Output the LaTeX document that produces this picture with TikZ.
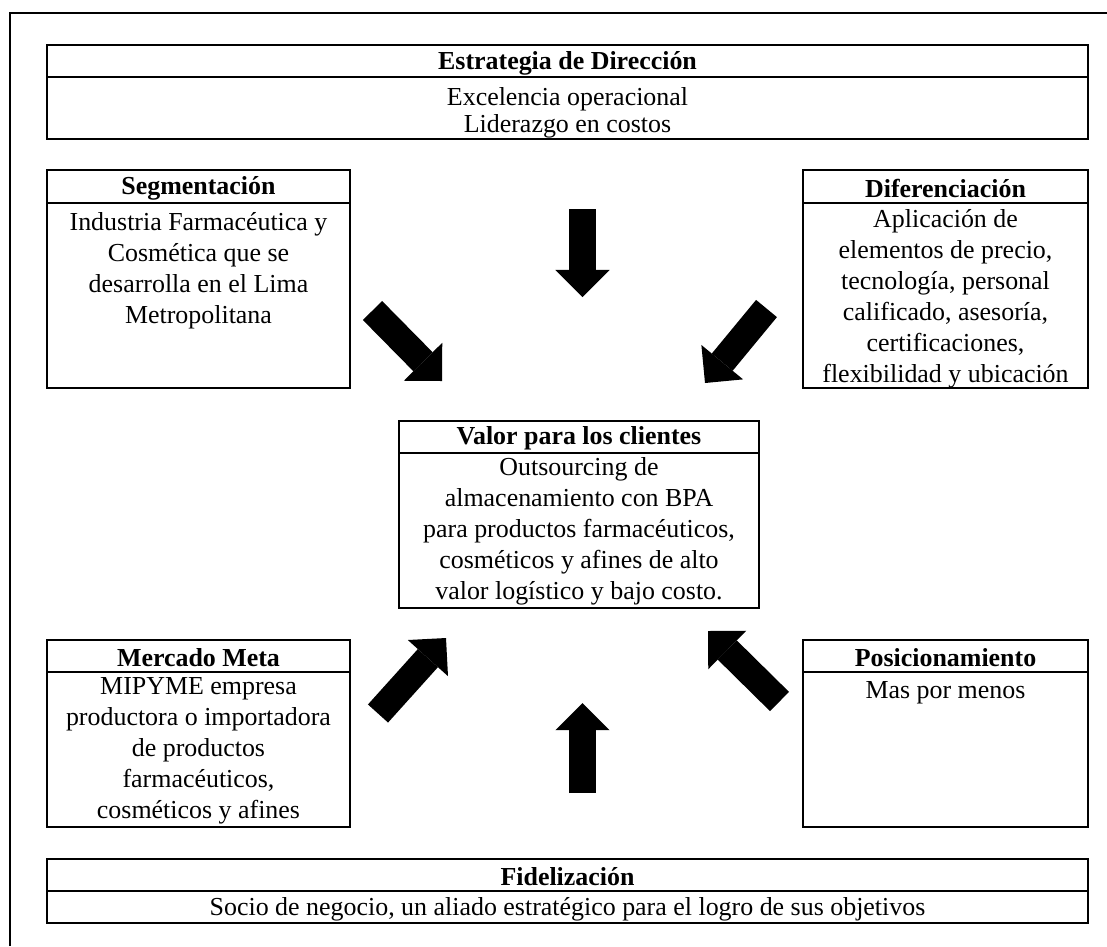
\documentclass[tikz,border=0pt]{standalone}
\usepackage{fontspec}
\setmainfont{Liberation Serif}
\usetikzlibrary{arrows.meta}

\begin{document}
\begin{tikzpicture}[x=0.54pt,y=-0.54pt,
        box/.style={line width=1pt},
        title/.style={font=\fontsize{14}{16.7}\selectfont\bfseries,inner sep=0pt},
        body/.style={align=center,font=\fontsize{14}{16.7}\selectfont,inner sep=0pt},
        bigarrow/.style={line width=14.6pt,-{Triangle[length=14.6pt,width=29.2pt,line width=0pt]}}]
        \useasboundingbox (0,0) rectangle (1107,946);
        % Outer frame: only the left and top edges are visible
        \draw[box] (10,946) -- (10,13) -- (1107,13);
        % Estrategia de Direccion (top)
        \draw[box] (47,45) rectangle (1088,139);
        \draw[box] (47,77) -- (1088,77);
        \node[title] (estrT) at (567.5,63) {Estrategia de Dirección};
        \node[body,font=\fontsize{14}{14.6}\selectfont] (estrB) at (567.5,113) {Excelencia operacional\\Liderazgo en costos};
        % Segmentacion (upper left)
        \draw[box] (47,170) rectangle (350,388);
        \draw[box] (47,203) -- (350,203);
        \node[title] (segmT) at (198.5,188) {Segmentación};
        \node[body] (segmB) at (198.5,271) {Industria Farmacéutica y\\Cosmética que se\\desarrolla en el Lima\\Metropolitana};
        % Diferenciacion (upper right)
        \draw[box] (803,170) rectangle (1088,388);
        \draw[box] (803,203) -- (1088,203);
        \node[title] (difeT) at (945.5,188) {Diferenciación};
        \node[body] (difeB) at (945.5,298.5) {Aplicación de\\elementos de precio,\\tecnología, personal\\calificado, asesoría,\\certificaciones,\\flexibilidad y ubicación};
        % Valor para los clientes (centre)
        \draw[box] (399,421) rectangle (759,608);
        \draw[box] (399,453) -- (759,453);
        \node[title] (valorT) at (579,438.5) {Valor para los clientes};
        \node[body] (valorB) at (579,531) {Outsourcing de\\almacenamiento con BPA\\para productos farmacéuticos,\\cosméticos y afines de alto\\valor logístico y bajo costo.};
        % Mercado Meta (lower left)
        \draw[box] (47,640) rectangle (350,827);
        \draw[box] (47,672) -- (350,672);
        \node[title] (mercT) at (198.5,658) {Mercado Meta};
        \node[body] (mercB) at (198.5,750.5) {MIPYME empresa\\productora o importadora\\de productos\\farmacéuticos,\\cosméticos y afines};
        % Posicionamiento (lower right)
        \draw[box] (803,640) rectangle (1088,827);
        \draw[box] (803,672) -- (1088,672);
        \node[title] (posiT) at (945.5,658) {Posicionamiento};
        \node[body] (posiB) at (945.5,693) {Mas por menos};
        % Fidelizacion (bottom)
        \draw[box] (47,859) rectangle (1088,923);
        \draw[box] (47,891) -- (1088,891);
        \node[title] (fideT) at (567.5,877) {Fidelización};
        \node[body] (fideB) at (567.5,909) {Socio de negocio, un aliado estratégico para el logro de sus objetivos};
        % Block arrows pointing at the centre box
        \coordinate (topTail) at (582.5,209);   \coordinate (topTip) at (582.5,297);
        \coordinate (ulTail) at (372.5,310.5);  \coordinate (ulTip) at (442,381);
        \coordinate (urTail) at (766.5,308.5);  \coordinate (urTip) at (705,383);
        \coordinate (llTail) at (378,713.5);    \coordinate (llTip) at (446,638);
        \coordinate (botTail) at (582.5,793);   \coordinate (botTip) at (582.5,703);
        \coordinate (lrTail) at (779.5,701.5);  \coordinate (lrTip) at (708,631);
        \draw[bigarrow] (topTail) -- (topTip);
        \draw[bigarrow] (ulTail) -- (ulTip);
        \draw[bigarrow] (urTail) -- (urTip);
        \draw[bigarrow] (llTail) -- (llTip);
        \draw[bigarrow] (botTail) -- (botTip);
        \draw[bigarrow] (lrTail) -- (lrTip);
      \end{tikzpicture}
\end{document}
